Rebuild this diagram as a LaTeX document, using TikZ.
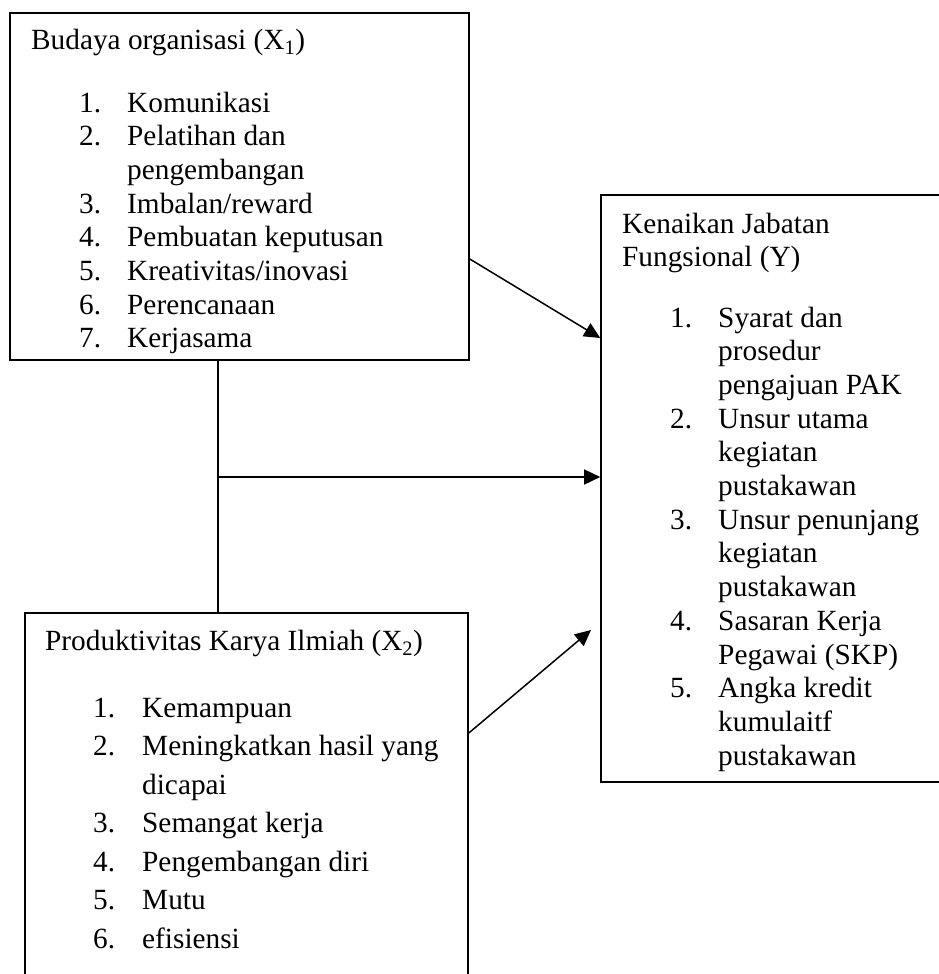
\documentclass[tikz,border=0pt]{standalone}
\usepackage{fontspec}
\setmainfont{Liberation Serif}
\usetikzlibrary{arrows.meta}
\tikzset{
  boxnode/.style={draw, line width=1.6pt, rectangle, inner sep=0pt},
  txt/.style={anchor=base west, inner sep=0pt, font=\fontsize{29.3}{34}\selectfont},
  arr/.style={-{Triangle[length=16pt,width=15pt]}, line width=1.5pt},
  plain/.style={line width=1.5pt}
}
\begin{document}
\begin{tikzpicture}[x=1pt,y=-1pt]
\useasboundingbox (0,0) rectangle (938,974);
% boxes
\node[boxnode, minimum width=459pt, minimum height=347pt] (box1) at (239.5,186.5) {};
\node[boxnode, minimum width=443pt, minimum height=387pt] (box2) at (246.5,806.5) {};
\node[boxnode, minimum width=349pt, minimum height=587pt] (box3) at (775.5,488.5) {};
% box 1 text
\node[txt] (b1t) at (31,50) {Budaya organisasi (X\textsubscript{1})};
\node[txt] (b1n1) at (79,112) {1.};   \node[txt] (b1i1) at (127,112) {Komunikasi};
\node[txt] (b1n2) at (79,145.7) {2.}; \node[txt] (b1i2) at (127,145.7) {Pelatihan dan};
\node[txt] (b1i2b) at (127,179.4) {pengembangan};
\node[txt] (b1n3) at (79,213.1) {3.}; \node[txt] (b1i3) at (127,213.1) {Imbalan/reward};
\node[txt] (b1n4) at (79,246.8) {4.}; \node[txt] (b1i4) at (127,246.8) {Pembuatan keputusan};
\node[txt] (b1n5) at (79,280.5) {5.}; \node[txt] (b1i5) at (127,280.5) {Kreativitas/inovasi};
\node[txt] (b1n6) at (79,314.2) {6.}; \node[txt] (b1i6) at (127,314.2) {Perencanaan};
\node[txt] (b1n7) at (79,347.9) {7.}; \node[txt] (b1i7) at (127,347.9) {Kerjasama};
% box 2 text
\node[txt] (b2t) at (45,650) {Produktivitas Karya Ilmiah (X\textsubscript{2})};
\node[txt] (b2n1) at (93,717) {1.};   \node[txt] (b2i1) at (142,717) {Kemampuan};
\node[txt] (b2n2) at (93,755.5) {2.}; \node[txt] (b2i2) at (142,755.5) {Meningkatkan hasil yang};
\node[txt] (b2i2b) at (142,794) {dicapai};
\node[txt] (b2n3) at (93,832.5) {3.}; \node[txt] (b2i3) at (142,832.5) {Semangat kerja};
\node[txt] (b2n4) at (93,871) {4.};   \node[txt] (b2i4) at (142,871) {Pengembangan diri};
\node[txt] (b2n5) at (93,909.5) {5.}; \node[txt] (b2i5) at (142,909.5) {Mutu};
\node[txt] (b2n6) at (93,948) {6.};   \node[txt] (b2i6) at (142,948) {efisiensi};
% box 3 text
\node[txt] (b3t1) at (622,233) {Kenaikan Jabatan};
\node[txt] (b3t2) at (622,266) {Fungsional (Y)};
\node[txt] (b3n1) at (670,327) {1.};    \node[txt] (b3i1) at (718,327) {Syarat dan};
\node[txt] (b3i1b) at (718,360.7) {prosedur};
\node[txt] (b3i1c) at (718,394.4) {pengajuan PAK};
\node[txt] (b3n2) at (670,428.1) {2.};  \node[txt] (b3i2) at (718,428.1) {Unsur utama};
\node[txt] (b3i2b) at (718,461.8) {kegiatan};
\node[txt] (b3i2c) at (718,495.5) {pustakawan};
\node[txt] (b3n3) at (670,529.2) {3.};  \node[txt] (b3i3) at (718,529.2) {Unsur penunjang};
\node[txt] (b3i3b) at (718,562.9) {kegiatan};
\node[txt] (b3i3c) at (718,596.6) {pustakawan};
\node[txt] (b3n4) at (670,630.3) {4.};  \node[txt] (b3i4) at (718,630.3) {Sasaran Kerja};
\node[txt] (b3i4b) at (718,664) {Pegawai (SKP)};
\node[txt] (b3n5) at (670,697.7) {5.};  \node[txt] (b3i5) at (718,697.7) {Angka kredit};
\node[txt] (b3i5b) at (718,731.4) {kumulaitf};
\node[txt] (b3i5c) at (718,765.1) {pustakawan};
% connector helper coordinates
\coordinate (s1) at (469,259);
\coordinate (t1) at (601,338);
\coordinate (j) at (218,477);
\coordinate (s3) at (468,733);
\coordinate (t3) at (591,630);
% connectors
\draw[arr] (box1.east |- s1) -- (box3.west |- t1);
\draw[plain] (box1.south -| j) -- (box2.north -| j);
\draw[arr] (j) -- (box3.west |- j);
\draw[arr] (box2.east |- s3) -- (t3);
\end{tikzpicture}
\end{document}
